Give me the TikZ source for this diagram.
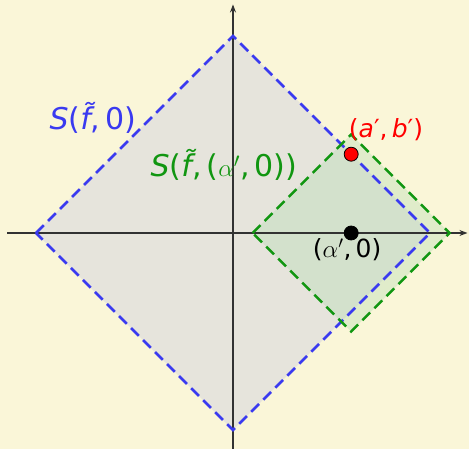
\documentclass[tikz,border=0pt]{standalone}
\usepackage{fontspec}
\setmainfont{DejaVu Sans}
\usepackage{tikz}
\usetikzlibrary{arrows.meta,calc}
\definecolor{bgcream}{RGB}{250,246,216}
\definecolor{axisgray}{RGB}{50,50,50}
\definecolor{sblue}{RGB}{58,58,240}
\definecolor{sgreen}{RGB}{17,150,17}
\definecolor{sfillblue}{RGB}{193,195,230}
\definecolor{sfillgreen}{RGB}{176,220,176}

\begin{document}
\begin{tikzpicture}[x=197pt,y=197pt,>={Stealth[length=8pt,width=6pt]},
  every node/.style={font=\fontsize{30}{35}\selectfont},
  small/.style={font=\fontsize{25}{30}\selectfont},
  ballline/.style={line width=2.5pt,dash pattern=on 11pt off 6pt},
  dot/.style={circle,draw=black,line width=0.8pt,inner sep=0pt,minimum size=14pt}]
  \fill[bgcream] (-1.1827,-1.0964) rectangle (1.198,1.1827);
  \useasboundingbox (-1.1827,-1.0964) rectangle (1.198,1.1827);
  % the two balls, filled
  \fill[sfillblue,opacity=0.35] (-1,0)--(0,1)--(1,0)--(0,-1)--cycle;
  \fill[sfillgreen,opacity=0.35] (0.1,0)--(0.6,0.5)--(1.1,0)--(0.6,-0.5)--cycle;
  % axes
  \coordinate (xl) at (-1.147,0); \coordinate (xr) at (1.19,0);
  \coordinate (yb) at (0,-1.0964); \coordinate (yt) at (0,1.16);
  \draw[->,axisgray,line width=1.1pt] (xl)--(xr);
  \draw[->,axisgray,line width=1.1pt] (yb)--(yt);
  % dashed borders
  \draw[ballline,sblue] (-1,0)--(0,1)--(1,0)--(0,-1)--cycle;
  \draw[ballline,sgreen] (0.1,0)--(0.6,0.5)--(1.1,0)--(0.6,-0.5)--cycle;
  % points and labels
  \node[dot,fill=black] (alpha) at (0.6,0) {};
  \node[dot,fill=red] (ab) at (0.6,0.4) {};
  \node[text=sblue] (lblue) at (-0.711,0.584) {\textit{S}(\textit{\~f},\,0)};
  \node[text=sgreen] (lgreen) at (-0.046,0.345) {\textit{S}(\textit{\~f},\,($\alpha'$,\,0))};
  \node[small,text=red] (lab) at (0.777,0.523) {(\textit{a}′,\,\textit{b}′)};
  \node[small] (lalpha) at (0.579,-0.086) {($\alpha'$,\,0)};
\end{tikzpicture}
\end{document}
